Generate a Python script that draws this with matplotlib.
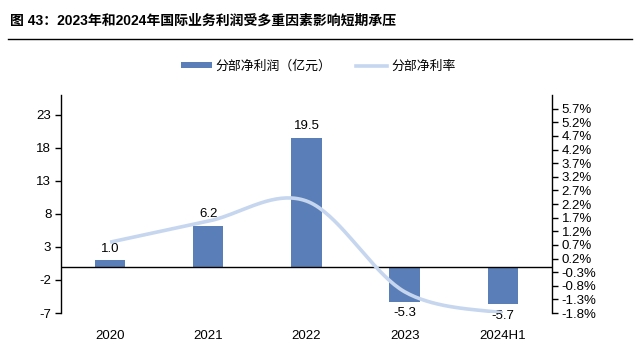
import numpy as np
import matplotlib
matplotlib.use("Agg")
import matplotlib.pyplot as plt
from matplotlib.lines import Line2D
from matplotlib.patches import Patch

plt.rcParams['font.family'] = ['Liberation Sans', 'Noto Sans CJK SC', 'DejaVu Sans']

# data
periods = ["2020", "2021", "2022", "2023", "2024H1"]
profit = [1.0, 6.2, 19.5, -5.3, -5.7]          # 分部净利润（亿元）
margin = [0.80, 1.57, 2.31, -1.02, -1.80]      # 分部净利率 (%)
left_ticks = [-7, -2, 3, 8, 13, 18, 23]
right_ticks = [-1.8, -1.3, -0.8, -0.3, 0.2, 0.7, 1.2, 1.7, 2.2, 2.7, 3.2, 3.7, 4.2, 4.7, 5.2, 5.7]

BAR = "#5a7fb8"
LINE = "#c6d6ef"
CJK = ['Noto Sans CJK SC', 'DejaVu Sans']


def smooth(xs, ys, n=40):
    # catmull-rom style curve, close to excel's smoothed line
    xs = np.asarray(xs, float)
    ys = np.asarray(ys, float)
    px = np.concatenate([[xs[0]], xs, [xs[-1]]])
    py = np.concatenate([[ys[0]], ys, [ys[-1]]])
    outx, outy = [], []
    for i in range(1, len(px) - 2):
        p0, p1, p2, p3 = (np.array([px[j], py[j]]) for j in range(i - 1, i + 3))
        c1 = p1 + (p2 - p0) / 6
        c2 = p2 - (p3 - p1) / 6
        t = np.linspace(0, 1, n)[:, None]
        b = (1 - t) ** 3 * p1 + 3 * (1 - t) ** 2 * t * c1 + 3 * (1 - t) * t ** 2 * c2 + t ** 3 * p2
        outx.extend(b[:, 0])
        outy.extend(b[:, 1])
    return np.array(outx), np.array(outy)


fig = plt.figure(figsize=(6.4, 3.54), dpi=100)
ax = fig.add_axes([0.0953, 0.1158, 0.767, 0.6158])
ax2 = ax.twinx()

x = np.arange(len(periods))
bars = ax.bar(x, profit, width=0.31, color=BAR, zorder=2)
ax.axhline(0, color="black", lw=1.0, zorder=3)

for xi, v in zip(x, profit):
    off = 4 if v >= 0 else -4
    ax.annotate(f"{v:.1f}", (xi, v), xytext=(0, off), textcoords="offset points",
                ha="center", va="bottom" if v >= 0 else "top", fontsize=9.5)

sx, sy = smooth(x, margin)
ax2.plot(sx, sy, color=LINE, lw=2.6, solid_capstyle="butt", zorder=4)

ax.set_xlim(-0.5, 4.5)
ax.set_ylim(-7, 26)
ax2.set_ylim(-1.8, 6.2)
ax.set_yticks(left_ticks)
ax.set_yticklabels([str(t) for t in left_ticks], fontsize=9.5)
ax2.set_yticks(right_ticks)
ax2.set_yticklabels([f"{t:.1f}%" for t in right_ticks], fontsize=9.5)

ax.set_xticks(x)
ax.set_xticklabels(periods, fontsize=9.5)
ax.tick_params(axis="x", length=0, pad=12)
ax.tick_params(axis="y", direction="out", length=4, width=1, pad=3)
ax2.tick_params(axis="y", direction="out", length=4, width=1, pad=3)

for a in (ax, ax2):
    a.spines["top"].set_visible(False)
    a.spines["bottom"].set_visible(False)
    a.spines["left"].set_linewidth(1)
    a.spines["right"].set_linewidth(1)
ax2.spines["left"].set_visible(False)
ax.spines["right"].set_visible(False)

handles = [Patch(facecolor=BAR, edgecolor="none"),
           Line2D([0], [0], color=LINE, lw=2.6)]
leg = fig.legend(handles, ["分部净利润（亿元）", "分部净利率"], loc="center",
                 bbox_to_anchor=(0.497, 0.813), ncol=2, frameon=False,
                 prop={"family": CJK, "size": 9.3}, handlelength=2.4,
                 handleheight=0.35, columnspacing=1.9, handletextpad=0.3)

fig.text(0.015, 0.943, "图 43：2023年和2024年国际业务利润受多重因素影响短期承压",
         fontsize=10, fontweight="bold", family=['Liberation Sans', 'Noto Sans CJK SC'],
         va="center", ha="left")
fig.add_artist(Line2D([0.012, 0.988], [0.889, 0.889], color="black", lw=1.0))

fig.savefig("out.png", dpi=100)
